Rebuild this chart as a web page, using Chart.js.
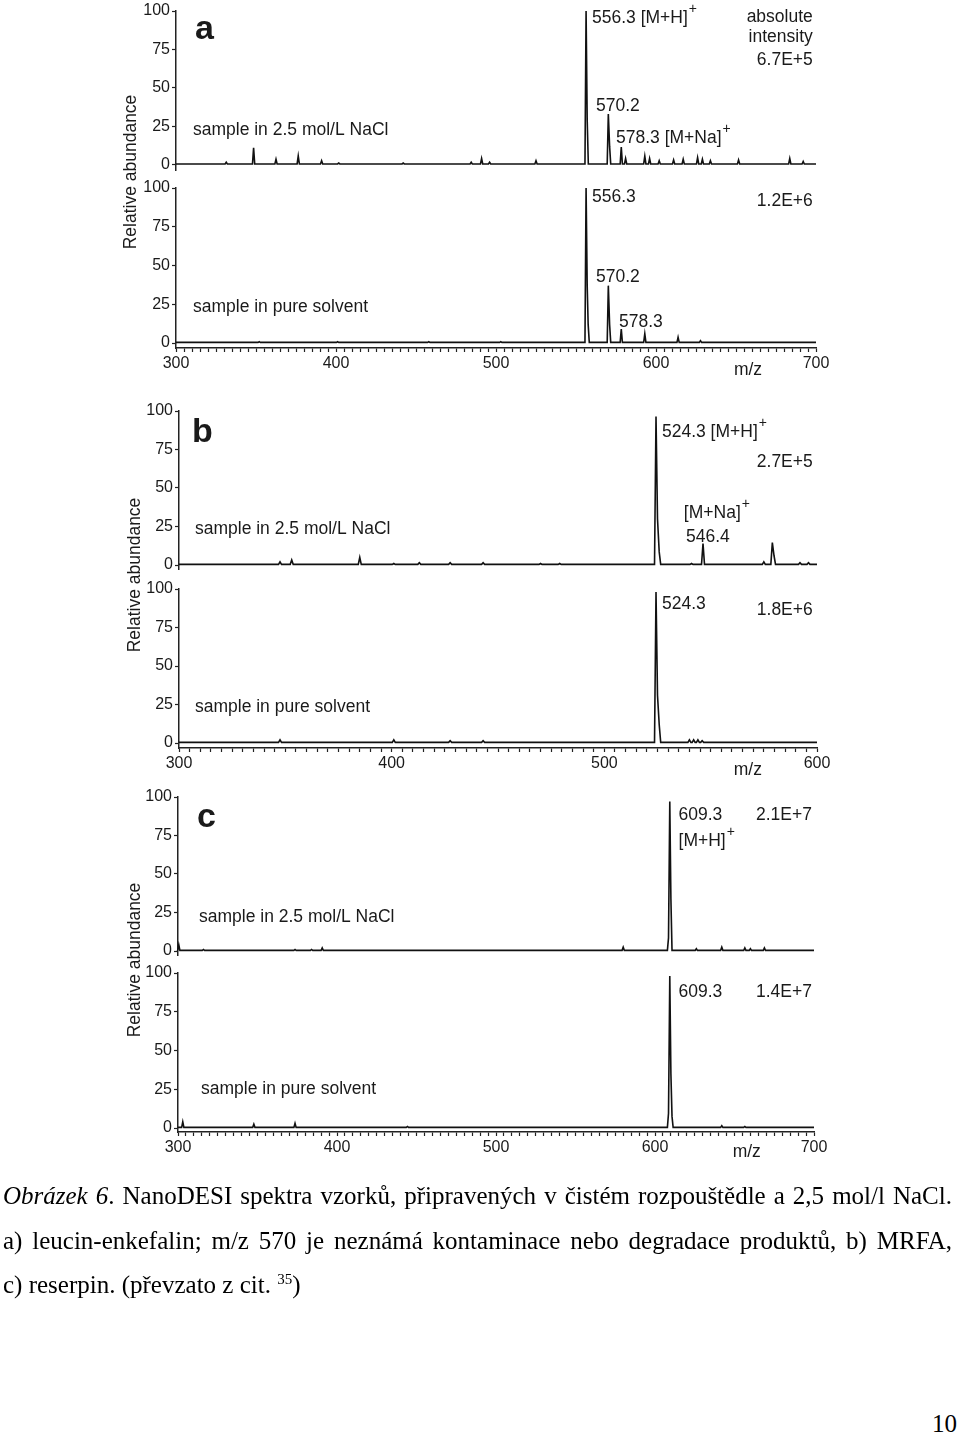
<!DOCTYPE html>
<html>
<head>
<meta charset="utf-8">
<title>NanoDESI spektra</title>
<script src="https://cdn.jsdelivr.net/npm/chart.js@4.4.1/dist/chart.umd.min.js"></script>
<style>
  body { margin: 0; background: #fff; width: 960px; height: 1438px; position: relative; overflow: hidden;
         font-family: "Liberation Sans", Arial, sans-serif; }
  .spec { position: absolute; }
  .ylab { position: absolute; transform: translate(-50%, -50%) rotate(-90deg); font-size: 17.5px;
          color: #1a1a1a; white-space: nowrap; }
  #caption { position: absolute; left: 3px; top: 1174px; width: 949px; color: #000;
             font-family: "Liberation Serif", "Times New Roman", serif; font-size: 25px; line-height: 44.5px; }
  #caption .j { display: block; text-align: justify; text-align-last: justify; }
  #caption sup { font-size: 15px; line-height: 0; }
  #page { position: absolute; right: 3px; top: 1410px; font-family: "Liberation Serif", serif; font-size: 25px; }
</style>
</head>
<body>

<div class="spec" id="wrap-aTop"><canvas id="aTop"></canvas></div>
<div class="spec" id="wrap-aBot"><canvas id="aBot"></canvas></div>
<div class="spec" id="wrap-bTop"><canvas id="bTop"></canvas></div>
<div class="spec" id="wrap-bBot"><canvas id="bBot"></canvas></div>
<div class="spec" id="wrap-cTop"><canvas id="cTop"></canvas></div>
<div class="spec" id="wrap-cBot"><canvas id="cBot"></canvas></div>

<div class="ylab" style="left:130px; top:172px;">Relative abundance</div>
<div class="ylab" style="left:134px; top:575px;">Relative abundance</div>
<div class="ylab" style="left:134px; top:960px;">Relative abundance</div>

<div id="caption">
  <span class="j"><i>Obrázek 6</i>. NanoDESI spektra vzorků, připravených v čistém rozpouštědle a 2,5 mol/l NaCl.</span>
  <span class="j">a) leucin-enkefalin; m/z 570 je neznámá kontaminace nebo degradace produktů, b) MRFA,</span>
  <span>c) reserpin. (převzato z cit. <sup>35</sup>)</span>
</div>
<div id="page">10</div>

<script>
// =============================================
// NanoDESI spectra - six stacked mass spectra
// =============================================

// --- Axis ticks ---
const yTicks = [0, 25, 50, 75, 100];
const xLabelsA = [300, 400, 500, 600, 700];
const xLabelsB = [300, 400, 500, 600];
const xLabelsC = [300, 400, 500, 600, 700];

// --- Peak lists (m/z, relative abundance %) ---
// a) leucine-enkephalin
const aSaltMz = [331.4, 348.5, 362.5, 376.4, 391, 401.7, 442, 484.5, 491, 496, 525,
  556.3, 557, 570.2, 571, 578.3, 581, 593, 596, 602, 611, 617, 626, 629, 634, 651.6, 683.6, 692];
const aSaltAb = [1.5, 11, 3.5, 5.6, 2.5, 1, 1, 1.5, 4, 1.5, 2.5,
  100, 29, 33, 12, 11.5, 4, 5.5, 4, 2.5, 3, 3.5, 4.5, 3.5, 2.5, 3, 4, 2];
const aPureMz = [352, 401, 458, 503, 556.3, 557, 557.6, 570.2, 571, 578.3, 593, 613.8, 627.8];
const aPureAb = [0.8, 0.8, 0.8, 0.8, 100, 37, 12, 37, 12, 9, 6, 3.7, 1.5];

// b) MRFA
const bSaltMz = [347.5, 353, 385, 401, 413, 427.5, 443, 470, 479,
  524.3, 525, 525.8, 541, 546.4, 575, 579, 579.8, 592, 596];
const bSaltAb = [2, 3.2, 5, 1, 1.5, 1.5, 1.5, 1, 1,
  96.5, 30, 8.5, 1, 14, 2, 14.5, 6, 1.5, 1.5];
const bPureMz = [347.5, 401, 427.5, 443, 524.3, 525, 525.8, 540, 542, 544, 546];
const bPureAb = [2, 2, 1.5, 1.5, 98, 31, 12, 2, 2, 2, 1.5];

// c) reserpine
const cSaltMz = [300.5, 316, 373.6, 384, 390.7, 580, 608.5, 609.3, 610, 626, 642, 656.5, 660, 668.8];
const cSaltAb = [4, 1, 1, 1, 2, 2.5, 8.5, 97, 34, 1.5, 2.5, 2, 1.5, 2];
const cPureMz = [303, 347.7, 373.6, 444.3, 608.5, 609.3, 610, 610.7, 642, 656.5];
const cPureAb = [4, 2.5, 3, 1, 9.5, 98, 35, 7.5, 1.5, 1];

// --- Styles ---
const INK = "#1a1a1a";
const FONT = '"Liberation Sans", Arial, sans-serif';
const BASE = 0.4; // baseline level of the profile

// turn a stick list into a narrow-peak line profile for Chart.js
function buildProfile(mz, ab, lo, hi) {
  const pts = [{ x: lo, y: BASE }];
  mz.forEach((m, i) => {
    const prev = mz[i - 1], next = mz[i + 1];
    if (prev === undefined || m - prev > 1.5) pts.push({ x: m - 0.7, y: BASE });
    pts.push({ x: m, y: ab[i] });
    if (next === undefined || next - m > 1.5) pts.push({ x: m + 0.7, y: BASE });
  });
  pts.push({ x: hi, y: BASE });
  return pts;
}

// --- Text notes drawn in data coordinates ---
const notesPlugin = {
  id: "notes",
  afterDraw(chart, args, opts) {
    const { ctx, scales: { x, y } } = chart;
    (opts.items || []).forEach(n => {
      ctx.save();
      ctx.font = n.font || "17.5px " + FONT;
      ctx.fillStyle = INK;
      ctx.textBaseline = "middle";
      ctx.textAlign = n.align || "left";
      const px = x.getPixelForValue(n.x), py = y.getPixelForValue(n.y);
      ctx.fillText(n.text, px, py);
      if (n.sup) {
        const w = ctx.measureText(n.text).width;
        ctx.font = "14px " + FONT;
        ctx.textAlign = "left";
        ctx.fillText(n.sup, px + w + 1, py - 9);
      }
      ctx.restore();
    });
  }
};

const BOLD = "bold 34px " + FONT;

const panels = [
  { id: "aTop", mz: aSaltMz, ab: aSaltAb, range: [300, 700], labels: xLabelsA, xAxis: false,
    box: { left: 176, right: 816, top: 11, zero: 164.6, bottom: 170 },
    notes: [
      { text: "a", x: 311.9, y: 87.6, font: BOLD },
      { text: "556.3 [M+H]", sup: "+", x: 560, y: 95.4 },
      { text: "570.2", x: 562.5, y: 38 },
      { text: "578.3 [M+Na]", sup: "+", x: 575, y: 17.3 },
      { text: "absolute", x: 698, y: 96, align: "right" },
      { text: "intensity", x: 698, y: 83, align: "right" },
      { text: "6.7E+5", x: 698, y: 68, align: "right" },
      { text: "sample in 2.5 mol/L NaCl", x: 310.6, y: 22.5 }
    ] },
  { id: "aBot", mz: aPureMz, ab: aPureAb, range: [300, 700], labels: xLabelsA, xAxis: true,
    box: { left: 176, right: 816, top: 188, zero: 343, bottom: 348 },
    notes: [
      { text: "556.3", x: 560, y: 94 },
      { text: "1.2E+6", x: 698, y: 91.6, align: "right" },
      { text: "570.2", x: 562.5, y: 42.6 },
      { text: "578.3", x: 576.9, y: 13.5 },
      { text: "sample in pure solvent", x: 310.6, y: 23.2 },
      { text: "m/z", x: 657.5, y: -17.4, align: "center" }
    ] },
  { id: "bTop", mz: bSaltMz, ab: bSaltAb, range: [300, 600], labels: xLabelsB, xAxis: false,
    box: { left: 179, right: 817, top: 411, zero: 565, bottom: 569 },
    notes: [
      { text: "b", x: 306.1, y: 85.7, font: BOLD },
      { text: "524.3 [M+H]", sup: "+", x: 527.1, y: 86.4 },
      { text: "2.7E+5", x: 598, y: 66.9, align: "right" },
      { text: "[M+Na]", sup: "+", x: 537.4, y: 33.8 },
      { text: "546.4", x: 538.4, y: 18.2 },
      { text: "sample in 2.5 mol/L NaCl", x: 307.5, y: 23.4 }
    ] },
  { id: "bBot", mz: bPureMz, ab: bPureAb, range: [300, 600], labels: xLabelsB, xAxis: true,
    box: { left: 179, right: 817, top: 589, zero: 743, bottom: 748 },
    notes: [
      { text: "524.3", x: 527.1, y: 90.3 },
      { text: "1.8E+6", x: 598, y: 86.4, align: "right" },
      { text: "sample in pure solvent", x: 307.5, y: 23.4 },
      { text: "m/z", x: 567.5, y: -17.5, align: "center" }
    ] },
  { id: "cTop", mz: cSaltMz, ab: cSaltAb, range: [300, 700], labels: xLabelsC, xAxis: false,
    box: { left: 178, right: 814, top: 797, zero: 951, bottom: 955 },
    notes: [
      { text: "c", x: 312, y: 86.4, font: BOLD },
      { text: "609.3", x: 614.8, y: 88.3 },
      { text: "2.1E+7", x: 698.7, y: 88.3, align: "right" },
      { text: "[M+H]", sup: "+", x: 614.8, y: 71.4 },
      { text: "sample in 2.5 mol/L NaCl", x: 313.2, y: 22 }
    ] },
  { id: "cBot", mz: cPureMz, ab: cPureAb, range: [300, 700], labels: xLabelsC, xAxis: true,
    box: { left: 178, right: 814, top: 973, zero: 1128, bottom: 1132 },
    notes: [
      { text: "609.3", x: 614.8, y: 87.7 },
      { text: "1.4E+7", x: 698.7, y: 87.7, align: "right" },
      { text: "sample in pure solvent", x: 314.5, y: 25.2 },
      { text: "m/z", x: 657.7, y: -15.5, align: "center" }
    ] }
];

// --- Build one chart per spectrum ---
// paddings are kept larger than half a tick label so Chart.js does not shrink the y scale
function drawSpectrum(p) {
  const yAxisW = 60, padTop = 12, padRight = 32;
  const xAxisH = p.xAxis ? 45 : 0, padBottom = p.xAxis ? 0 : 12;
  const b = p.box;
  const wrap = document.getElementById("wrap-" + p.id);
  const canvas = document.getElementById(p.id);
  canvas.width = b.right - b.left + yAxisW + padRight;
  canvas.height = b.bottom - b.top + padTop + xAxisH + padBottom;
  wrap.style.left = (b.left - yAxisW) + "px";
  wrap.style.top = (b.top - padTop) + "px";

  const unit = (b.zero - b.top) / 100;
  const yMin = -(b.bottom - b.zero) / unit;
  const [lo, hi] = p.range;

  return new Chart(canvas, {
    type: "line",
    data: {
      datasets: [{
        data: buildProfile(p.mz, p.ab, lo, hi),
        borderColor: "#111",
        borderWidth: 1.6,
        pointRadius: 0,
        tension: 0,
        fill: false,
        clip: false
      }]
    },
    options: {
      responsive: false,
      animation: false,
      devicePixelRatio: 1,
      layout: { autoPadding: false, padding: { top: padTop, right: padRight, bottom: padBottom, left: 0 } },
      plugins: { legend: { display: false }, tooltip: { enabled: false }, notes: { items: p.notes } },
      scales: {
        x: {
          type: "linear", min: lo, max: hi, display: p.xAxis,
          afterFit: s => { s.height = xAxisH; },
          afterBuildTicks: s => {
            const t = [];
            for (let v = lo; v <= hi; v += 5) t.push({ value: v });
            s.ticks = t;
          },
          ticks: {
            autoSkip: false, maxRotation: 0, padding: 2, color: INK,
            font: { family: FONT, size: 16 },
            callback: v => (p.labels.includes(v) ? String(v) : "")
          },
          grid: { drawOnChartArea: false, tickLength: 4, color: "#222", tickWidth: 1.2 },
          border: { color: "#222", width: 1.5 }
        },
        y: {
          min: yMin, max: 100,
          afterFit: s => { s.width = yAxisW; },
          afterBuildTicks: s => { s.ticks = yTicks.map(v => ({ value: v })); },
          ticks: { padding: 2, color: INK, font: { family: FONT, size: 16 } },
          grid: { drawOnChartArea: false, tickLength: 4, color: "#222", tickWidth: 1.2 },
          border: { color: "#222", width: 1.5 }
        }
      }
    },
    plugins: [notesPlugin]
  });
}

panels.forEach(drawSpectrum);
</script>
</body>
</html>
